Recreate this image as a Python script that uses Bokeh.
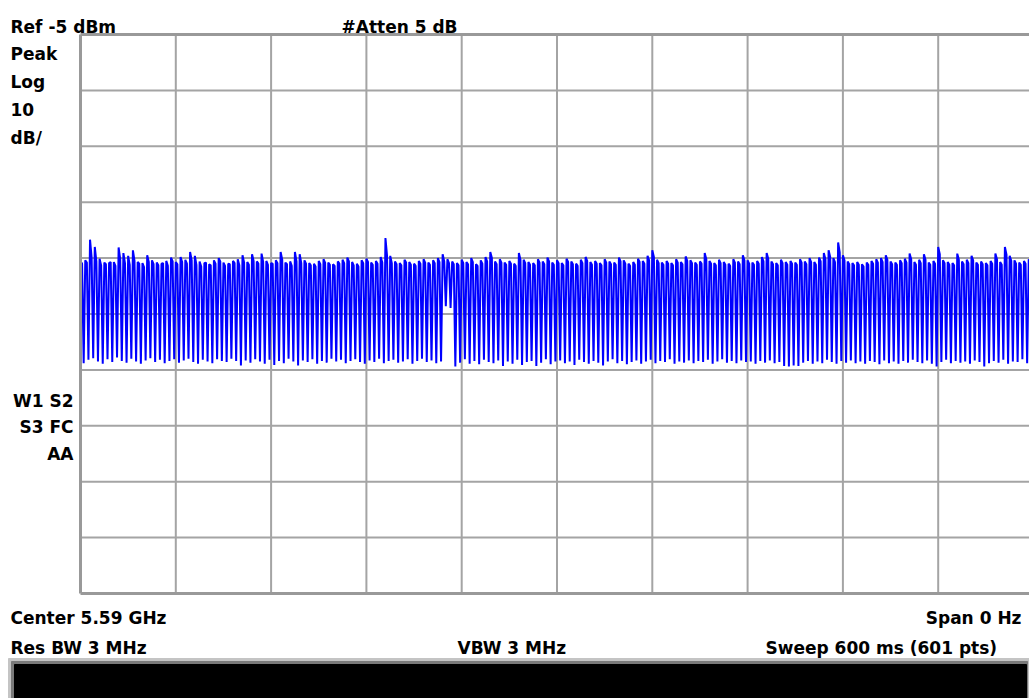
import numpy as np
from bokeh.plotting import figure
from bokeh.models import Range1d
from bokeh.core.properties import value
from bokeh.embed import file_html
from bokeh.resources import INLINE

highs = [
    -45.6, -45.4, -41.7, -43.0, -45.1, -45.8, -45.9, -45.7, -43.1, -44.1,
    -44.6, -43.6, -45.7, -45.9, -44.5, -45.4, -45.8, -46.0, -45.5, -44.9,
    -45.7, -44.8, -45.3, -43.9, -44.6, -45.6, -45.9, -46.1, -45.4, -45.0,
    -45.8, -46.0, -45.5, -45.2, -44.5, -45.7, -44.3, -45.6, -44.2, -45.5,
    -45.9, -45.4, -43.9, -45.8, -45.6, -43.9, -44.3, -45.4, -45.9, -46.0,
    -45.5, -45.2, -45.8, -46.1, -45.6, -45.3, -44.9, -45.7, -46.0, -45.4,
    -45.1, -45.8, -45.5, -44.8, -41.4, -44.6, -45.6, -45.9, -45.3, -45.7,
    -46.0, -45.5, -45.2, -45.8, -45.4, -45.0, -44.3, -45.2, -45.6, -45.9,
    -45.3, -45.7, -45.0, -46.1, -45.4, -44.8, -43.9, -45.6, -45.2, -45.8,
    -45.5, -46.0, -44.1, -45.3, -45.7, -45.9, -45.2, -45.6, -44.9, -45.8,
    -45.4, -45.9, -45.1, -45.6, -46.0, -45.3, -44.8, -45.7, -45.5, -45.9,
    -45.2, -45.6, -45.8, -44.9, -45.4, -46.0, -45.7, -45.1, -45.5, -44.6,
    -43.6, -45.3, -45.8, -45.5, -45.9, -45.2, -45.7, -44.7, -45.4, -45.8,
    -45.6, -44.1, -45.5, -45.9, -45.3, -45.7, -46.0, -45.2, -45.6, -44.5,
    -45.4, -45.8, -45.5, -44.8, -44.1, -45.6, -45.9, -45.3, -45.7, -45.5,
    -45.8, -45.2, -45.6, -45.0, -45.7, -44.9, -44.1, -43.6, -45.0, -42.2,
    -44.5, -45.6, -45.9, -45.7, -46.1, -45.8, -45.5, -45.2, -45.0, -44.5,
    -45.6, -45.8, -45.4, -45.1, -44.2, -45.7, -45.3, -44.3, -45.8, -45.5,
    -43.0, -45.4, -45.7, -45.9, -44.2, -45.6, -45.3, -44.6, -45.8, -45.6,
    -45.9, -45.5, -44.2, -45.7, -43.0, -44.6, -45.4, -45.8, -45.5, -45.2,
]
highs2 = [
    -46.0, -45.8, -44.9, -45.6, -46.3, -46.1, -45.7, -46.4, -45.2, -45.9,
    -46.2, -45.5, -46.0, -46.6, -45.7, -46.1, -46.3, -45.9, -46.4, -45.6,
    -46.1, -45.7, -46.0, -45.4, -46.2, -46.5, -45.8, -46.3, -46.0, -45.6,
    -46.4, -46.1, -45.9, -46.3, -45.8, -46.2, -45.5, -46.0, -45.7, -46.2,
    -46.0, -45.9, -45.3, -46.1, -46.4, -45.6, -45.9, -46.0, -46.3, -46.5,
    -46.1, -45.8, -46.2, -46.4, -46.0, -45.9, -45.6, -46.3, -46.5, -45.9,
    -45.7, -46.2, -46.0, -45.8, -44.6, -45.9, -46.1, -46.3, -45.8, -46.2,
    -46.4, -46.0, -45.8, -46.2, -45.9, -45.7, -45.6, -45.9, -46.1, -46.3,
    -45.9, -46.1, -45.7, -46.4, -46.0, -45.6, -45.0, -46.1, -45.8, -46.2,
    -46.0, -46.4, -45.3, -45.9, -46.2, -46.3, -45.8, -46.1, -45.6, -46.2,
    -45.9, -46.3, -45.7, -46.1, -46.4, -45.9, -45.5, -46.2, -46.0, -46.3,
    -45.8, -46.1, -46.2, -45.6, -46.0, -46.4, -46.2, -45.7, -46.0, -45.4,
    -44.8, -45.9, -46.2, -46.0, -46.3, -45.8, -46.1, -45.5, -45.9, -46.2,
    -46.0, -45.2, -46.0, -46.3, -45.9, -46.2, -46.4, -45.8, -46.1, -45.4,
    -46.0, -46.2, -46.0, -45.6, -45.1, -46.1, -46.3, -45.9, -46.2, -46.0,
    -46.2, -45.8, -46.1, -45.7, -46.2, -45.6, -45.2, -44.8, -45.7, -44.0,
    -45.4, -46.1, -46.3, -46.2, -46.5, -46.2, -46.0, -45.8, -45.7, -45.3,
    -46.1, -46.2, -45.9, -45.8, -45.2, -46.2, -45.9, -45.3, -46.2, -46.0,
    -44.3, -45.9, -46.2, -46.3, -45.3, -46.1, -45.9, -45.4, -46.2, -46.1,
    -46.3, -46.0, -45.2, -46.2, -44.4, -45.5, -46.0, -46.2, -46.0, -45.8,
]
lows = [
    -63.8, -63.2, -62.9, -63.5, -63.9, -63.1, -63.6, -62.8, -63.4, -63.7,
    -63.0, -63.5, -63.9, -63.3, -62.9, -63.6, -63.2, -63.8, -63.4, -63.1,
    -63.7, -63.3, -63.0, -63.6, -63.9, -63.2, -63.5, -63.8, -63.1, -63.4,
    -63.6, -63.0, -63.4, -64.2, -63.3, -63.7, -63.1, -63.5, -63.9, -63.2,
    -64.1, -63.4, -63.8, -63.0, -63.5, -64.2, -63.3, -63.6, -63.1, -63.9,
    -63.4, -63.7, -63.0, -63.5, -63.2, -63.8, -63.4, -63.1, -63.6, -63.9,
    -63.3, -63.6, -63.0, -63.8, -63.4, -63.2, -63.7, -63.5, -63.1, -63.9,
    -63.4, -63.0, -63.6, -63.3, -63.8, -63.5, -53.6, -53.9, -64.4, -63.7,
    -63.1, -63.9, -63.4, -64.0, -63.2, -63.6, -63.8, -63.3, -64.3, -63.5,
    -63.9, -63.2, -64.1, -63.6, -63.4, -64.3, -63.7, -63.1, -64.0, -63.5,
    -63.3, -63.8, -63.5, -64.1, -63.2, -63.6, -63.9, -63.4, -63.7, -64.2,
    -63.5, -63.1, -63.8, -63.4, -64.0, -63.6, -63.3, -63.9, -63.5, -63.2,
    -63.8, -63.4, -63.6, -63.1, -63.9, -63.5, -63.7, -63.3, -63.8, -63.4,
    -63.6, -63.2, -63.9, -63.5, -63.1, -63.7, -63.4, -63.8, -63.3, -63.6,
    -63.5, -63.9, -63.4, -63.7, -63.3, -63.8, -63.6, -64.3, -64.4, -64.2,
    -64.3, -63.7, -63.4, -63.9, -63.5, -63.8, -63.2, -63.6, -63.9, -63.4,
    -63.7, -63.3, -63.8, -63.5, -63.9, -63.4, -63.6, -64.0, -63.3, -63.8,
    -63.5, -63.9, -63.4, -63.7, -63.2, -63.6, -63.8, -63.3, -63.9, -64.4,
    -63.6, -63.2, -63.8, -63.4, -63.7, -63.5, -63.9, -63.3, -63.6, -64.4,
    -63.8, -63.4, -63.7, -63.2, -63.9, -63.5, -63.6, -63.1, -63.8, -63.4,
]
last_point = -45.4
sweep_ms = 600
n_points = 601
ref_level = -5
db_per_div = 10
divisions = 10

top_texts = ["Ref -5 dBm", "#Atten 5 dB"]
left_texts = ["Peak", "Log", "10", "dB/"]
status_texts = ["W1 S2", "S3 FC", "AA"]
bottom_left = ["Center 5.59 GHz", "Res BW 3 MHz"]
bottom_right = ["Span 0 Hz"]
bottom_mid = ["VBW 3 MHz", "Sweep 600 ms (601 pts)"]

# ---- build trace ----
trace = []
for h, h2, l in zip(highs, highs2, lows):
    trace += [h, h2, l]
trace.append(last_point)
t = np.linspace(0, sweep_ms, n_points)

# ---- geometry: the frame covers the whole page; layout ranges are in pixels ----
W, H = 1029, 698
FL, FT = 80, 34                 # pixel position of t=0 and of the reference level
PX_X = 953.0 / sweep_ms         # px per ms
PX_Y = 559.0 / (db_per_div * divisions)   # px per dB
bottom_level = ref_level - db_per_div * divisions

p = figure(width=W, height=H, output_backend="svg", toolbar_location=None,
           x_axis_type=None, y_axis_type=None,
           x_range=Range1d(0, W), y_range=Range1d(H, 0),
           min_border=0, outline_line_color=None,
           background_fill_color="white", border_fill_color="white")
p.extra_x_ranges = {"t": Range1d(-FL / PX_X, (W - FL) / PX_X)}
p.extra_y_ranges = {"db": Range1d(ref_level - (H - FT) / PX_Y, ref_level + FT / PX_Y)}

grid_color = "#a4a4a4"
border_color = "#999999"
xt = [sweep_ms * i / divisions for i in range(1, divisions)]
yt = [ref_level - db_per_div * i for i in range(1, divisions)]
p.segment(x0=xt, x1=xt, y0=[bottom_level] * len(xt), y1=[ref_level] * len(xt),
          x_range_name="t", y_range_name="db", line_color=grid_color, line_width=2)
p.segment(x0=[0] * len(yt), x1=[sweep_ms] * len(yt), y0=yt, y1=yt,
          x_range_name="t", y_range_name="db", line_color=grid_color, line_width=2)

p.line(t, trace, x_range_name="t", y_range_name="db", line_color="#0000ff", line_width=2)

# graticule border
p.segment(x0=[0, 0, 0], x1=[0, sweep_ms, sweep_ms],
          y0=[bottom_level, ref_level, bottom_level], y1=[ref_level, ref_level, bottom_level],
          x_range_name="t", y_range_name="db", line_color=border_color, line_width=3)

FONT = value("DejaVu Sans")

def txt(xs, ys, texts, align="left", size="17px"):
    p.text(x=xs, y=ys, text=texts, text_font=FONT, text_font_style="bold",
           text_font_size=size, text_color="black", text_align=align,
           text_baseline="alphabetic")

txt([10, 341], [26, 26], top_texts)
txt([10] * 4, [53, 81, 109, 137], left_texts)
txt([73] * 3, [400, 426.5, 453], status_texts, align="right")
txt([10, 10], [617, 647], bottom_left)
txt([1021], [617], bottom_right, align="right")
txt([457, 765], [647, 647], bottom_mid)

# ---- status bar ----
p.quad(left=[8], right=[W], top=[658], bottom=[H], color="#c4c4c4")
p.quad(left=[11], right=[W - 2], top=[661], bottom=[H], color="#7a7a7a")
p.quad(left=[14], right=[W - 3], top=[664], bottom=[H], color="black")

open("out.html", "w").write(file_html(p, INLINE))
